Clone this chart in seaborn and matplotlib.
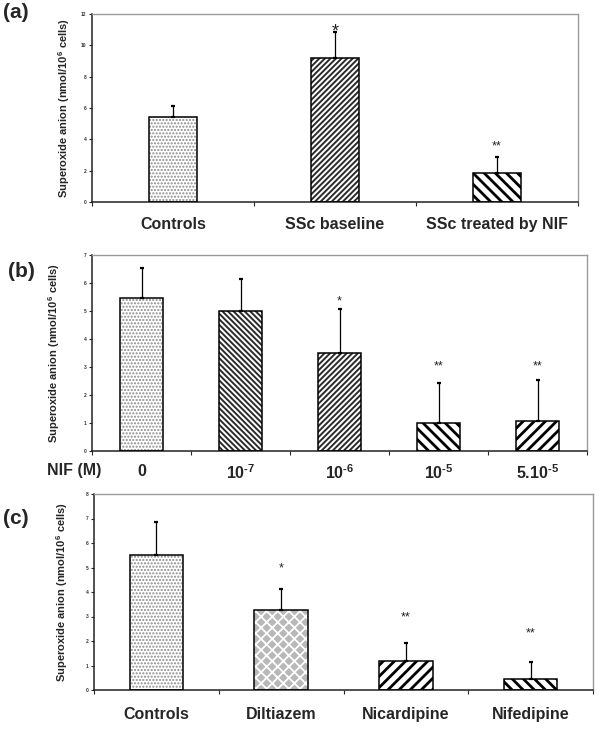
import numpy as np
import matplotlib
matplotlib.use('Agg')
import matplotlib.pyplot as plt
from matplotlib.patches import Rectangle
import seaborn as sns

sns.set_style('white')
plt.rcParams['font.family'] = ['Liberation Sans', 'DejaVu Sans']
plt.rcParams['font.weight'] = 'bold'
plt.rcParams['mathtext.fontset'] = 'custom'
plt.rcParams['mathtext.rm'] = 'Liberation Sans:bold'
plt.rcParams['mathtext.bf'] = 'Liberation Sans:bold'
plt.rcParams['mathtext.it'] = 'Liberation Sans:bold'

# ---- data ----
cats_a = ['Controls', 'SSc baseline', 'SSc treated by NIF']
vals_a = [5.45, 9.2, 1.85]
err_a = [0.65, 1.65, 1.0]
sig_a = ['', '*', '**']

cats_b = ['0', '10$^{\u20107}$', '10$^{\u20106}$', '10$^{\u20105}$', '5.10$^{\u20105}$']
vals_b = [5.47, 5.0, 3.5, 1.0, 1.08]
err_b = [1.05, 1.13, 1.56, 1.43, 1.46]
sig_b = ['', '', '*', '**', '**']

cats_c = ['Controls', 'Diltiazem', 'Nicardipine', 'Nifedipine']
vals_c = [5.5, 3.27, 1.18, 0.44]
err_c = [1.37, 0.84, 0.72, 0.72]
sig_c = ['', '*', '**', '**']

ylabel = 'Superoxide anion (nmol/10$^6$ cells)'

# hatch styles: (facecolor, hatch, hatch colour, hatch lw)
DOTS = ('white', '.....', '#8a8a8a', 1.0)
DENSE_F = ('white', '//////', '#2a2a2a', 1.4)
DENSE_B = ('white', '\\\\\\\\\\\\', '#2a2a2a', 1.4)
WIDE_F = ('white', '///', 'black', 2.0)
WIDE_B = ('white', '\\\\\\', 'black', 2.0)
DIAM = ('#b8b8b8', 'xxx', 'white', 1.3)


def panel(rect, cats, vals, errs, sigs, styles, ymax, ystep, width,
          label_x, star_off, star_size, letter, letter_xy, xpad):
    ax = fig.add_axes(rect)
    sns.barplot(x=cats, y=vals, ax=ax, color='white', errorbar=None,
                width=width, linewidth=0)
    xs = np.arange(len(cats))
    for p, st in zip(ax.patches, styles):
        fc, h, hc, hlw = st
        p.set_facecolor(fc)
        p.set_hatch(h)
        p.set_edgecolor(hc)
        p.set_linewidth(0)
        if hasattr(p, 'set_hatch_linewidth'):
            p.set_hatch_linewidth(hlw)
        ax.add_patch(Rectangle(p.get_xy(), p.get_width(), p.get_height(),
                               fill=False, edgecolor='black', lw=1.1, zorder=3))
    ax.errorbar(xs, vals, yerr=[np.zeros(len(vals)), errs], fmt='none',
                ecolor='black', elinewidth=0.9, capsize=1.6, capthick=1.6,
                zorder=2)
    for x, v, e, s, off, fs in zip(xs, vals, errs, sigs, star_off, star_size):
        if s:
            ax.annotate(s, (x, v + e), xytext=(0, off), textcoords='offset points',
                        ha='center', va='center', fontsize=fs,
                        fontweight='normal', color='#222222')
    ax.set_xlim(-0.5, len(cats) - 0.5)
    ax.set_ylim(0, ymax)
    ax.set_yticks(np.arange(0, ymax + 0.01, ystep))
    ax.tick_params(axis='y', labelsize=3.5, length=2.5, width=0.8,
                   direction='out', left=True, pad=1.5, labelcolor='#333333')
    ax.set_xticks(xs)
    ax.set_xticklabels(cats, fontsize=11.5, fontweight='bold')
    ax.set_xticks(np.arange(-0.5, len(cats), 1.0), minor=True)
    ax.tick_params(axis='x', which='major', length=0, pad=xpad)
    ax.tick_params(axis='x', which='minor', length=3, width=0.8,
                   direction='out', bottom=True)
    ax.set_xlabel('')
    ax.set_ylabel(ylabel, fontsize=8, fontweight='bold')
    ax.yaxis.set_label_coords(label_x, 0.5)
    for side in ['top', 'right']:
        ax.spines[side].set_color('#9a9a9a')
        ax.spines[side].set_linewidth(1.0)
    for side in ['left', 'bottom']:
        ax.spines[side].set_color('#222222')
        ax.spines[side].set_linewidth(1.1)
    fig.text(letter_xy[0], letter_xy[1], letter, fontsize=15,
             fontweight='bold', ha='left', va='top')
    return ax


W, H = 600, 729
fig = plt.figure(figsize=(W / 100, H / 100), dpi=100)


def r(l, t, rr, b):
    return [l / W, 1 - b / H, (rr - l) / W, (b - t) / H]


panel(r(92, 14, 578, 202), cats_a, vals_a, err_a, sig_a,
      [DOTS, DENSE_F, WIDE_B], 12, 2, 0.3, -20 / 486,
      [0, 0, 8], [0, 13, 9], '(a)', (3 / W, 1 - 3 / H), 11)

axb = panel(r(92, 255, 587, 451), cats_b, vals_b, err_b, sig_b,
            [DOTS, DENSE_B, DENSE_F, WIDE_B, WIDE_F], 7, 1, 0.44, -30 / 495,
            [0, 0, 6, 12, 10], [0, 0, 9, 9, 9], '(b)', (8 / W, 1 - 262 / H), 9)
fig.text(74 / W, 1 - 470 / H, 'NIF (M)', fontsize=11.5, fontweight='bold',
         ha='center', va='center')

panel(r(94, 494, 593, 690), cats_c, vals_c, err_c, sig_c,
      [DOTS, DIAM, WIDE_F, WIDE_B], 8, 1, 0.43, -24 / 499,
      [0, 15, 19, 20], [0, 9, 9, 9], '(c)', (3 / W, 1 - 509 / H), 12)

fig.savefig('out.png', dpi=100)
